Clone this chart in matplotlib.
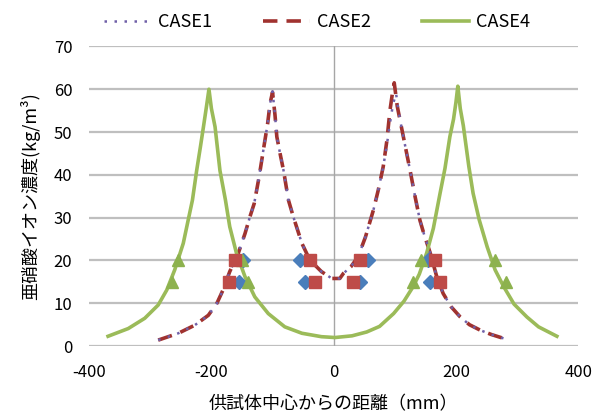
import matplotlib
matplotlib.use("Agg")
import matplotlib.pyplot as plt

plt.rcParams['font.family'] = ['Noto Sans CJK JP', 'DejaVu Sans']
plt.rcParams['axes.unicode_minus'] = False

# CASE1 line (dotted)
case1_x = [-287, -254, -227, -205, -191, -181, -170, -156, -145, -137, -130, -122, -115, -108, -104, -100,
           -96, -93, -87, -82, -74, -66, -52, -39, -20, -3, 10, 16, 28, 40, 52, 65, 73, 81, 87, 92, 97, 102,
           106, 111, 118, 125, 133, 141, 148, 158, 168, 179, 192, 207, 222, 240, 258, 278]
case1_y = [1.4, 3.0, 4.9, 7.2, 10.0, 13.1, 17.4, 21.7, 26.3, 30.2, 33.3, 39.5, 45.8, 52.0, 56.7, 59.5,
           54.0, 48.9, 44.5, 41.0, 34.1, 30.2, 24.0, 20.1, 17.4, 15.8, 15.8, 17.0, 18.5, 20.9, 25.5, 31.8, 36.5, 41.9, 47.0, 52.0, 56.5, 59.0,
           55.0, 51.0, 46.0, 41.0, 35.0, 29.4, 26.0, 21.7, 16.5, 12.3, 9.2, 6.8, 5.0, 3.7, 2.7, 1.8]
# CASE2 line (dashed)
case2_x = [-287, -254, -227, -205, -191, -181, -170, -156, -145, -137, -130, -122, -115, -108, -104, -100,
           -96, -93, -87, -82, -74, -66, -52, -39, -20, -3, 10, 16, 28, 40, 52, 65, 73, 81, 87, 92, 96, 99,
           104, 111, 118, 125, 133, 141, 148, 158, 168, 179, 192, 207, 222, 240, 258, 278]
case2_y = [1.4, 3.0, 4.9, 7.2, 10.0, 13.1, 17.4, 21.7, 26.3, 30.2, 33.3, 39.5, 45.8, 52.0, 56.7, 59.3,
           54.0, 48.9, 44.5, 41.0, 34.1, 30.2, 24.0, 20.1, 17.4, 15.8, 15.8, 17.0, 18.5, 20.9, 25.5, 31.8, 36.5, 41.9, 48.0, 55.0, 59.0, 61.5,
           56.0, 51.0, 46.0, 41.0, 35.0, 29.4, 26.0, 21.7, 16.5, 12.3, 9.2, 6.8, 5.0, 3.7, 2.7, 1.8]
# CASE4 line (solid)
case4_x = [-369, -336, -309, -287, -273, -260, -246, -238, -231, -224, -218, -213, -208, -204,
           -200, -194, -186, -177, -170, -159, -145, -129, -107, -80, -52, -20, 2,
           30, 54, 75, 98, 115, 130, 140, 152, 163, 174, 182, 190, 196, 200, 203,
           207, 212, 221, 228, 238, 251, 264, 278, 295, 316, 335, 365]
case4_y = [2.3, 4.1, 6.5, 9.6, 13.1, 17.8, 24.0, 29.4, 34.1, 41.1, 46.5, 51.2, 56.0, 60.0,
           55.5, 51.2, 41.0, 34.1, 27.9, 21.7, 16.2, 11.5, 7.6, 4.5, 3.0, 2.2, 2.0,
           2.4, 3.3, 4.6, 7.6, 10.5, 13.9, 16.8, 21.7, 27.5, 35.7, 41.5, 48.9, 53.0, 57.0, 60.7,
           55.5, 51.5, 42.0, 35.7, 29.5, 23.2, 17.8, 13.9, 9.8, 6.8, 4.5, 2.3]

# measured points
m1_x = [-148, -55, -155, -47, 56, 155, 43, 158]
m1_y = [20, 20, 15, 15, 20, 20, 15, 15]
m2_x = [-162, -39, -172, -31, 43, 166, 32, 174]
m2_y = [20, 20, 15, 15, 20, 20, 15, 15]
m4_x = [-255, -150, -265, -140, 143, 264, 130, 281]
m4_y = [20, 20, 15, 15, 20, 20, 15, 15]

x_ticks = [-400, -200, 0, 200, 400]
y_ticks = [0, 10, 20, 30, 40, 50, 60, 70]

fig = plt.figure(figsize=(5.98, 4.18), dpi=100)
ax = fig.add_axes([0.149, 0.172, 0.818, 0.717])

for y in y_ticks:
    ax.axhline(y, color='#BFBFBF', lw=1.6, zorder=0)
ax.axvline(0, color='#A6A6A6', lw=1.0, zorder=0)

l2, = ax.plot(case2_x, case2_y, color='#A0322F', lw=2.6, ls=(0, (4, 2.5)), label='CASE2', zorder=2)
l1, = ax.plot(case1_x, case1_y, color='#7060A8', lw=1.8, ls=(0, (1, 3)), label='CASE1', zorder=3)
l4, = ax.plot(case4_x, case4_y, color='#9BBB59', lw=2.6, ls='-', label='CASE4', zorder=2)

ax.plot(m1_x, m1_y, ls='none', marker='D', ms=7, color='#4A7EBB', zorder=4)
ax.plot(m2_x, m2_y, ls='none', marker='s', ms=9, color='#BE4B48', zorder=5)
ax.plot(m4_x, m4_y, ls='none', marker='^', ms=9, color='#8DB24E', zorder=4)

ax.set_xlim(-400, 400)
ax.set_ylim(0, 70)
ax.set_xticks(x_ticks)
ax.set_yticks(y_ticks)
for s in ax.spines.values():
    s.set_visible(False)
ax.tick_params(axis='x', length=0, labelsize=12, pad=13)
ax.tick_params(axis='y', length=0, labelsize=12, pad=12)

ax.set_xlabel('供試体中心からの距離（mm）', fontsize=13, labelpad=10)
ax.set_ylabel('亜硝酸イオン濃度(kg/m³)', fontsize=13, labelpad=10)

fig.legend(handles=[l1, l2, l4], loc='center', bbox_to_anchor=(0.53, 0.947), ncol=3,
           frameon=False, fontsize=13, handlelength=2.6, columnspacing=2.8, handletextpad=0.4)

fig.savefig('out.png', dpi=100)
